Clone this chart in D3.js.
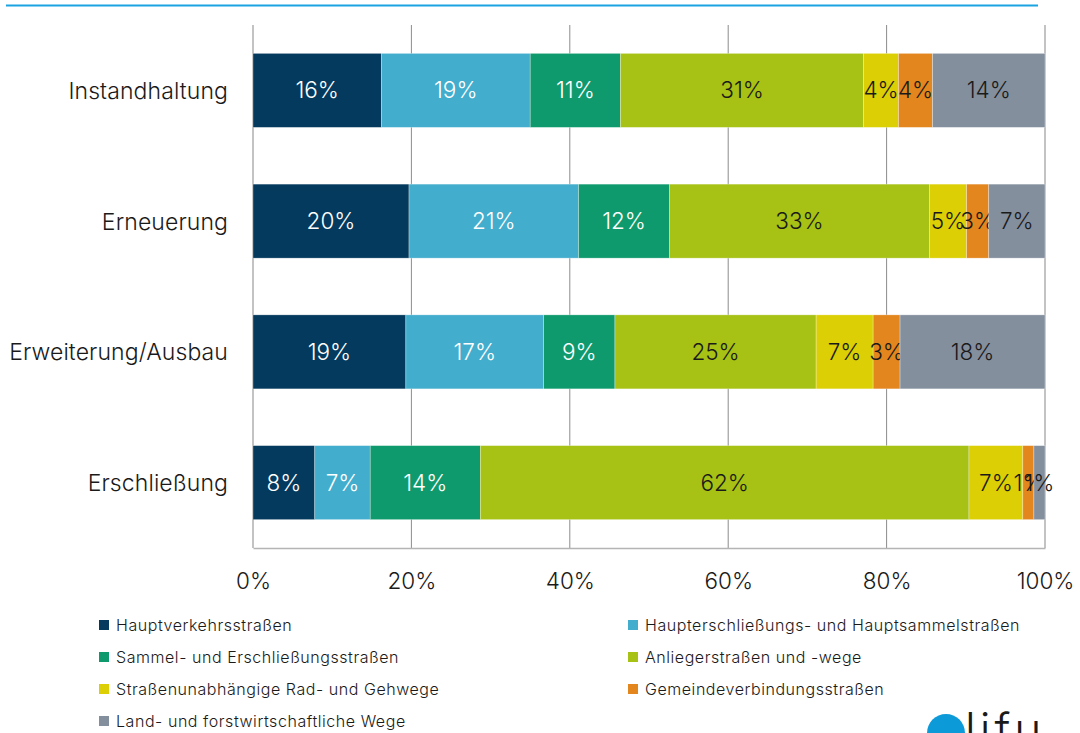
<!DOCTYPE html>
<html>
<head>
<meta charset="utf-8">
<script src="https://cdn.jsdelivr.net/npm/d3@7"></script>
<style>
  html, body { margin: 0; padding: 0; background: #fff; }
  svg { display: block; font-family: Inter, "Open Sans", sans-serif; font-weight: 300; }
</style>
</head>
<body>
<svg id="chart" width="1080" height="733"></svg>
<script>
var categories = ['Instandhaltung', 'Erneuerung', 'Erweiterung/Ausbau', 'Erschließung'];
var seriesNames = [
  'Hauptverkehrsstraßen',
  'Haupterschließungs- und Hauptsammelstraßen',
  'Sammel- und Erschließungsstraßen',
  'Anliegerstraßen und -wege',
  'Straßenunabhängige Rad- und Gehwege',
  'Gemeindeverbindungsstraßen',
  'Land- und forstwirtschaftliche Wege'
];
// shares in percent, one array per series, in category order
var hauptverkehr = [16.2, 19.7, 19.3, 7.8];
var hauptsammel = [18.8, 21.4, 17.4, 7.0];
var sammel = [11.4, 11.5, 9.0, 13.9];
var anlieger = [30.7, 32.8, 25.4, 61.7];
var radGeh = [4.4, 4.7, 7.2, 6.8];
var gemeinde = [4.3, 2.8, 3.4, 1.4];
var landForst = [14.2, 7.1, 18.3, 1.4];
var tickValues = [0, 20, 40, 60, 80, 100];

var colors = ['#033a5e', '#42adcc', '#0f9a6e', '#a7c115', '#dccf05', '#e3861d', '#848f9e'];
var labelColors = ['#fff', '#fff', '#fff', '#1a1a1a', '#1a1a1a', '#1a1a1a', '#1a1a1a'];

var seriesValues = [hauptverkehr, hauptsammel, sammel, anlieger, radGeh, gemeinde, landForst];
var rows = categories.map(function(c, i) {
  var row = { category: c };
  seriesNames.forEach(function(s, j) { row[s] = seriesValues[j][i]; });
  return row;
});

var svg = d3.select('#chart');
var LEFT = 253, RIGHT = 1045, TOP = 25, BOTTOM = 548;

var x = d3.scaleLinear().domain([0, 100]).range([LEFT, RIGHT]);
var y = d3.scaleBand().domain(categories).range([TOP, BOTTOM])
  .paddingInner(0.434).paddingOuter(0.217);
var color = d3.scaleOrdinal().domain(seriesNames).range(colors);

// top rule
svg.append('line')
  .attr('x1', 6).attr('x2', 1038).attr('y1', 5.5).attr('y2', 5.5)
  .attr('stroke', '#1aa3e0').attr('stroke-width', 2);

// gridlines
svg.append('g').selectAll('line')
  .data(tickValues)
  .enter().append('line')
  .attr('x1', function(d) { return x(d); })
  .attr('x2', function(d) { return x(d); })
  .attr('y1', TOP).attr('y2', BOTTOM)
  .attr('stroke', function(d) { return d === 0 || d === 100 ? '#b4b4b4' : '#8c8c8c'; })
  .attr('stroke-width', function(d) { return d === 0 || d === 100 ? 1.6 : 1; });

// bottom axis
var xAxis = d3.axisBottom(x).tickValues(tickValues)
  .tickFormat(function(d) { return d + '%'; }).tickSize(0).tickPadding(25);
var gx = svg.append('g').attr('transform', 'translate(0,' + BOTTOM + ')').call(xAxis);
gx.select('.domain').attr('stroke', '#b4b4b4').attr('stroke-width', 1.6);
gx.selectAll('text').attr('font-size', 22.5).attr('fill', '#1a1a1a')
  .attr('font-family', 'Inter, sans-serif').attr('font-weight', 300);

// category labels
var yAxis = d3.axisLeft(y).tickSize(0).tickPadding(25);
var gy = svg.append('g').attr('transform', 'translate(' + LEFT + ',1)').call(yAxis);
gy.select('.domain').remove();
gy.selectAll('text').attr('font-size', 23).attr('letter-spacing', 0.1).attr('fill', '#1a1a1a')
  .attr('font-family', 'Inter, sans-serif').attr('font-weight', 300);

// stacked bars
var stacked = d3.stack().keys(seriesNames)(rows);
var layers = svg.append('g').selectAll('g')
  .data(stacked)
  .enter().append('g')
  .attr('fill', function(d) { return color(d.key); });

layers.selectAll('rect')
  .data(function(d) { return d; })
  .enter().append('rect')
  .attr('x', function(d) { return x(d[0]); })
  .attr('y', function(d) { return y(d.data.category); })
  .attr('width', function(d) { return x(d[1]) - x(d[0]); })
  .attr('height', y.bandwidth())
  .attr('stroke', '#fff').attr('stroke-width', 0.6).attr('stroke-opacity', 0.5);

layers.each(function(layer, li) {
  d3.select(this).selectAll('text')
    .data(layer)
    .enter().append('text')
    .attr('x', function(d) { return (x(d[0]) + x(d[1])) / 2; })
    .attr('y', function(d) { return y(d.data.category) + y.bandwidth() / 2; })
    .attr('dy', '0.36em')
    .attr('text-anchor', 'middle')
    .attr('font-size', 22.5)
    .attr('fill', labelColors[li])
    .text(function(d) { return Math.round(d[1] - d[0]) + '%'; });
});

// legend
var legend = svg.append('g').selectAll('g')
  .data(seriesNames)
  .enter().append('g')
  .attr('transform', function(d, i) {
    var col = i % 2, row = Math.floor(i / 2);
    return 'translate(' + (col === 0 ? 99 : 628) + ',' + (625 + row * 32) + ')';
  });
legend.append('rect')
  .attr('x', 0).attr('y', -5).attr('width', 10).attr('height', 10)
  .attr('fill', function(d) { return color(d); });
legend.append('text')
  .attr('x', 17).attr('y', 0).attr('dy', '0.35em')
  .attr('font-size', 16).attr('letter-spacing', 0.55).attr('fill', '#1a1a1a')
  .text(function(d) { return d; });

// logo
var logo = svg.append('g');
logo.append('circle').attr('cx', 946).attr('cy', 733).attr('r', 19).attr('fill', '#0d9ad9');
logo.append('text').attr('x', 965).attr('y', 746)
  .attr('font-size', 46).attr('font-weight', 300).attr('fill', '#1a1a1a')
  .attr('letter-spacing', 4)
  .text('lifu');
</script>
</body>
</html>
